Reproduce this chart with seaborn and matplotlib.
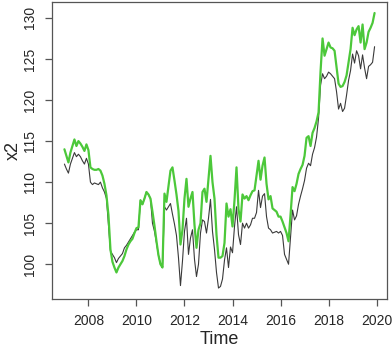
import numpy as np
import pandas as pd
import seaborn as sns
import matplotlib
matplotlib.use("Agg")
import matplotlib.pyplot as plt

sns.set_theme(style="white", rc={"axes.edgecolor": "#555555", "axes.linewidth": 0.9})
plt.rcParams["font.family"] = ["Liberation Sans", "DejaVu Sans"]

# monthly series, Jan 2007 - Dec 2019
start_year = 2007
x2_fit = [
    114.0, 113.2, 112.4, 113.6, 114.4, 115.2, 114.4, 115.0, 114.7, 114.3, 113.8, 114.6,
    113.9, 111.8, 111.6, 111.5, 111.5, 111.6, 111.4, 110.8, 109.8, 108.4, 106.0, 101.8,
    100.3, 99.6, 99.0, 99.6, 100.0, 100.4, 101.0, 101.8, 102.4, 102.8, 103.1, 103.8,
    104.4, 104.5, 107.8, 107.3, 108.0, 108.8, 108.5, 108.0, 106.4, 104.7, 102.8, 101.1,
    100.0, 99.6, 108.6, 107.6, 109.5, 111.4, 111.8, 110.2, 108.5, 106.5, 102.4, 104.2,
    108.0, 110.4, 107.0, 108.0, 108.8, 104.8, 102.0, 104.2, 105.0, 108.8, 109.2, 107.6,
    110.4, 113.2, 110.0, 108.0, 103.6, 100.8, 100.8, 101.0, 102.6, 107.4, 105.8, 106.7,
    104.6, 107.8, 111.8, 106.7, 105.2, 108.5, 108.0, 108.3, 107.8, 108.4, 108.9, 109.0,
    110.8, 112.6, 110.3, 112.0, 113.0, 109.8, 107.9, 108.3, 106.8, 106.6, 106.4, 105.8,
    105.8, 105.2, 104.5, 103.8, 102.8, 106.0, 109.4, 108.9, 109.8, 111.0, 111.6, 112.1,
    113.2, 115.4, 115.6, 114.4, 116.0, 116.6, 117.4, 118.5, 123.5, 127.5, 125.4, 126.2,
    127.0, 126.4, 126.3, 126.0, 124.0, 122.0, 121.6, 121.7, 122.2, 123.0, 124.6, 126.2,
    128.8, 127.9, 128.6, 129.0, 127.0, 129.2, 126.2, 127.0, 128.3, 128.8, 129.4, 130.6,
]
x2_obs = [
    112.2, 111.6, 111.1, 112.2, 112.9, 113.6, 113.1, 113.4, 113.1, 112.6, 112.2, 112.9,
    112.2, 110.0, 109.7, 109.9, 109.8, 109.7, 110.0, 109.3, 108.8, 108.0, 104.8, 101.6,
    101.2, 100.8, 100.2, 100.7, 101.0, 101.3, 102.0, 102.3, 102.7, 103.1, 103.5, 103.9,
    104.2, 104.2, 107.8, 107.3, 108.0, 108.8, 108.5, 108.0, 105.0, 104.0, 102.6, 101.1,
    100.0, 99.6, 107.0, 106.6, 107.0, 107.4, 106.1, 104.9, 103.5, 100.8, 97.4, 100.4,
    104.0, 105.6, 101.2, 103.2, 104.2, 100.6, 98.5, 100.0, 103.8, 105.4, 105.2, 103.8,
    105.6, 107.9, 104.0, 101.8, 99.0, 97.1, 97.3, 98.2, 100.5, 102.0, 99.6, 102.1,
    101.4, 104.6, 107.0, 103.6, 102.4, 105.0, 104.4, 105.0, 104.4, 104.8, 105.6, 105.6,
    106.3, 109.0, 106.9, 108.3, 108.6, 105.8, 104.4, 104.2, 103.8, 103.9, 104.0, 103.8,
    104.0, 103.5, 101.2, 100.6, 100.0, 103.3, 106.6, 105.4, 105.9, 107.3, 108.3, 109.2,
    110.2, 111.7, 112.3, 112.0, 113.4, 114.2, 115.5, 117.8, 121.8, 123.2, 122.6, 122.9,
    123.4, 123.2, 122.9, 122.6, 121.0, 118.9, 119.6, 118.6, 119.0, 120.6, 122.4, 123.6,
    125.6, 124.5, 126.0, 125.4, 123.8, 125.5, 123.9, 122.6, 124.1, 124.3, 124.6, 126.5,
]
xticks = [2008, 2010, 2012, 2014, 2016, 2018, 2020]
yticks = [100, 105, 110, 115, 120, 125, 130]

time = start_year + np.arange(len(x2_obs)) / 12
df = pd.DataFrame({"Time": time, "obs": x2_obs, "fit": x2_fit})

fig = plt.figure(figsize=(3.92, 3.51), dpi=100)
ax = fig.add_axes([0.1327, 0.148, 0.8545, 0.8463])

sns.lineplot(data=df, x="Time", y="obs", ax=ax, color="#3a3a3a", linewidth=0.8)
sns.lineplot(data=df, x="Time", y="fit", ax=ax, color="#4cc83a", linewidth=1.6)

# R style 4% padding
lo = min(min(x2_obs), min(x2_fit)); hi = max(max(x2_obs), max(x2_fit))
pad = (hi - lo) * 0.04
ax.set_ylim(lo - pad, hi + pad)
tpad = (time[-1] - time[0]) * 0.04
ax.set_xlim(time[0] - tpad, time[-1] + tpad)

ax.set_xticks(xticks)
ax.set_yticks(yticks)
ax.set_yticklabels([str(v) for v in yticks], rotation=90, va="center")
ax.tick_params(axis="both", which="major", bottom=True, left=True, length=5,
               width=0.9, color="#555555", labelsize=10, pad=6)
ax.set_xlabel("Time", fontsize=13, labelpad=2)
ax.set_ylabel("x2", fontsize=13, labelpad=1)
for s in ax.spines.values():
    s.set_visible(True)

fig.savefig("out.png", dpi=100)
